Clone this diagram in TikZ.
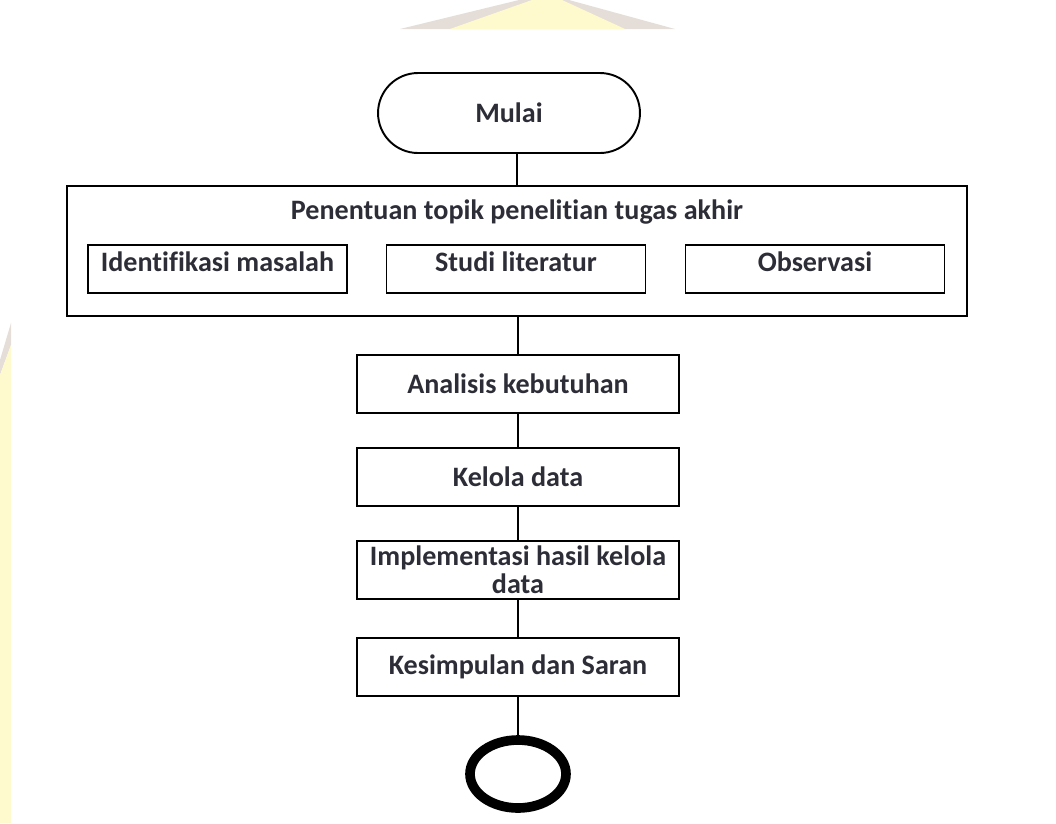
\documentclass[tikz,border=0pt]{standalone}
\usepackage{fontspec}
\setmainfont{Carlito}[Ligatures=NoCommon]
\usetikzlibrary{shapes.misc,shapes.geometric}

\definecolor{wmgrey}{RGB}{229,221,216}
\definecolor{wmyellow}{RGB}{255,250,205}
\definecolor{txt}{RGB}{45,45,55}

\begin{document}
\begin{tikzpicture}[x=0.02cm,y=-0.02cm,
  font=\fontsize{16}{18}\selectfont\bfseries,
  line/.style={line width=1.1pt},
  box/.style={draw,line width=1.1pt,minimum width=6.44cm,minimum height=1.16cm,inner sep=0pt,align=center,text=txt},
  subbox/.style={draw,line width=1.1pt,minimum width=5.18cm,minimum height=0.96cm,inner sep=0pt,text height=0.34cm,text depth=0.24cm,text=txt},
  bigbox/.style={draw,line width=1.1pt,minimum width=18cm,minimum height=2.6cm,inner sep=0pt},
  terminal/.style={draw,line width=1.1pt,rounded rectangle,minimum width=5.24cm,minimum height=1.6cm,inner sep=0pt,text=txt},
  stopcircle/.style={draw,ellipse,line width=5.5pt,minimum width=1.92cm,minimum height=1.36cm,inner sep=0pt}]

\useasboundingbox (0,0) rectangle (1056,823);

\fill[wmgrey] (400,29) -- (519,0) -- (569,0) -- (675,29) -- cycle;
\fill[wmyellow] (450,29) -- (532,0) -- (562,0) -- (625,29) -- cycle;
\fill[wmgrey] (0,360) -- (11,323) -- (11,345) -- (0,375) -- cycle;
\fill[wmyellow] (0,375) -- (11,345) -- (11,823) -- (0,823) -- cycle;

\node[terminal] (mulai) at (509,113) {Mulai};

\node[bigbox] (topik) at (517,251) {};
\node[text=txt] (judul) at (517,212) {Penentuan topik penelitian tugas akhir};
\node[subbox] (identifikasi) at (217.5,269) {Identifikasi masalah};
\node[subbox] (studi) at (516,269) {Studi literatur};
\node[subbox] (observasi) at (815,269) {Observasi};

\node[box] (analisis) at (518,384) {Analisis kebutuhan};
\node[box] (kelola) at (518,477) {Kelola data};
\node[box] (implementasi) at (518,570) {Implementasi hasil kelola\\[-2pt]data};
\node[box] (kesimpulan) at (518,667) {Kesimpulan dan Saran};
\node[stopcircle] (selesai) at (518,774) {};

\draw[line] (topik.north |- mulai.south) -- (topik.north);
\draw[line] (analisis.north |- topik.south) -- (analisis.north);
\draw[line] (analisis) -- (kelola);
\draw[line] (kelola) -- (implementasi);
\draw[line] (implementasi) -- (kesimpulan);
\draw[line] (kesimpulan) -- (selesai);

\end{tikzpicture}
\end{document}
